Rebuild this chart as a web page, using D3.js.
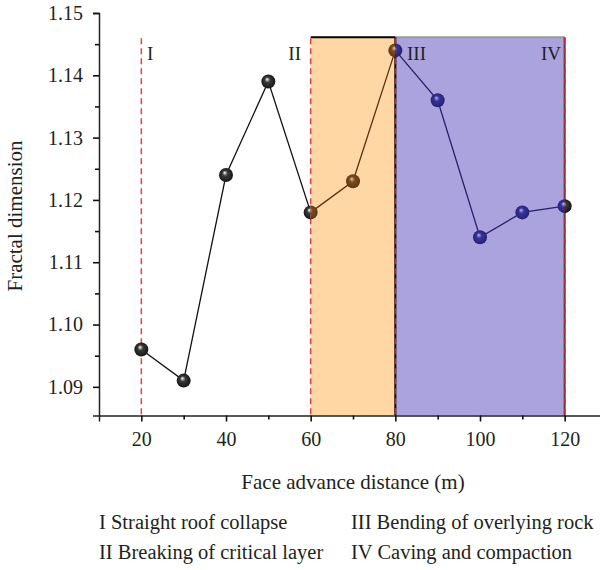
<!DOCTYPE html>
<html><head><meta charset="utf-8">
<script src="https://cdn.jsdelivr.net/npm/d3@7"></script>
<style>body{margin:0;background:#fff}svg{display:block}text{font-family:"Liberation Serif","Times New Roman",serif;fill:#231f20}</style>
</head><body><svg id="c" width="600" height="570"></svg>
<script>
const distance = [20,30,40,50,60,70,80,90,100,110,120];
const fractal = [1.096,1.091,1.124,1.139,1.118,1.123,1.144,1.136,1.114,1.118,1.119];
const stageBounds = [20,60,80,120];
const stageLabels = ["I","II","III","IV"];
const xTicks = [20,40,60,80,100,120];
const yTicks = [1.09,1.10,1.11,1.12,1.13,1.14,1.15];
const legendLines = [["I Straight roof collapse","III Bending of overlying rock"],["II Breaking of critical layer","IV Caving and compaction"]];
const segColors = [{c:"#111",hi:"#fff",mid:"#3a3a3a"},{c:"#5a3412",hi:"#f0c898",mid:"#7d4c1e"},{c:"#24206a",hi:"#b8b4f0",mid:"#37329a"}];

const svg = d3.select("#c");
const x = d3.scaleLinear().domain([10,130]).range([99,607]);
const y = d3.scaleLinear().domain([1.0854,1.15]).range([415.5,13]);
const defs = svg.append("defs");
segColors.forEach((s,i)=>{
  const g = defs.append("radialGradient").attr("id","g"+i).attr("cx","50%").attr("cy","50%").attr("r","55%").attr("fx","40%").attr("fy","32%");
  g.append("stop").attr("offset","0%").attr("stop-color",s.hi);
  g.append("stop").attr("offset","35%").attr("stop-color",s.mid);
  g.append("stop").attr("offset","100%").attr("stop-color",s.c);
});
const yTop = y(1.1461), yBot = y.range()[0];
svg.append("rect").attr("x",x(60)).attr("y",yTop).attr("width",x(80)-x(60)).attr("height",yBot-yTop).attr("fill","#fed7a5");
svg.append("rect").attr("x",x(80)).attr("y",yTop).attr("width",x(120)-x(80)).attr("height",yBot-yTop).attr("fill","#aaa3de");
svg.append("line").attr("x1",x(60)).attr("x2",x(80)).attr("y1",yTop).attr("y2",yTop).attr("stroke","#000").attr("stroke-width",2);
svg.append("line").attr("x1",x(80)).attr("x2",x(120)).attr("y1",yTop).attr("y2",yTop).attr("stroke","#999").attr("stroke-width",2);
stageBounds.forEach((b,i)=>{
  if(i>=2) svg.append("line").attr("x1",x(b)).attr("x2",x(b)).attr("y1",yTop).attr("y2",yBot).attr("stroke",i==2?"#000":"#444").attr("stroke-width",2);
  svg.append("line").attr("x1",x(b)).attr("x2",x(b)).attr("y1",yTop+1).attr("y2",yBot).attr("stroke",i>=2?"#c8282a":"#e8413c").attr("stroke-width",1.5).attr("stroke-dasharray","6,4");
});
const clipR = [[0,x(60)],[x(60),x(80)],[x(80),x(120)],[x(120),620]];
clipR.forEach((r,i)=>{defs.append("clipPath").attr("id","cl"+i).append("rect").attr("x",r[0]).attr("y",0).attr("width",r[1]-r[0]).attr("height",570);});
const pts = distance.map((d,i)=>({d,v:fractal[i]}));
const segs = [pts.filter(p=>p.d<=60), pts.filter(p=>p.d>=60&&p.d<=80), pts.filter(p=>p.d>=80)];
const line = d3.line().x(p=>x(p.d)).y(p=>y(p.v));
segs.forEach((s,i)=>svg.append("path").attr("d",line(s)).attr("fill","none").attr("stroke",segColors[i].c).attr("stroke-width",1.3));
const markerSets = [[0,segs[0]],[1,segs[1]],[2,segs[2]],[0,[pts[10]]]];
markerSets.forEach(([ci,s],k)=>{
  svg.append("g").attr("clip-path",`url(#cl${k})`).selectAll("circle").data(s).join("circle")
    .attr("cx",p=>x(p.d)).attr("cy",p=>y(p.v)).attr("r",7).attr("fill",`url(#g${ci})`);
});
svg.append("g").attr("transform","translate(99,0)").call(d3.axisLeft(y).tickValues(yTicks).tickFormat(d3.format(".2f")).tickSize(6).tickPadding(10));
svg.append("g").attr("transform","translate(99,0)").call(d3.axisLeft(y).tickValues(d3.range(1.095,1.15,0.01)).tickFormat("").tickSize(4)).select(".domain").remove();
svg.append("g").attr("transform",`translate(0,${yBot})`).call(d3.axisBottom(x).tickValues(xTicks).tickSize(6).tickPadding(10));
svg.append("g").attr("transform",`translate(0,${yBot})`).call(d3.axisBottom(x).tickValues([30,50,70,90,110]).tickFormat("").tickSize(4)).select(".domain").remove();
svg.selectAll(".domain").attr("stroke","#222").attr("stroke-width",1.5);
svg.selectAll(".tick line").attr("stroke","#111").attr("stroke-width",1.6);
svg.selectAll(".tick text").style("font-size","20px").style("font-family","'Liberation Serif', serif").style("fill","#231f20");
svg.append("text").attr("x",353).attr("y",489).attr("text-anchor","middle").attr("font-size",21).text("Face advance distance (m)");
svg.append("text").attr("transform","translate(22,216) rotate(-90)").attr("text-anchor","middle").attr("font-size",21).text("Fractal dimension");
const labPos = [[147,"start"],[301,"end"],[407,"start"],[561,"end"]];
stageLabels.forEach((l,i)=>svg.append("text").attr("x",labPos[i][0]).attr("y",60).attr("text-anchor",labPos[i][1]).attr("font-size",19).attr("fill",i>=2?"#2a2660":"#231f20").text(l));
legendLines.forEach((row,r)=>row.forEach((t,c)=>svg.append("text").attr("x",c?351:99).attr("y",529+r*30).attr("font-size",20.5).text(t)));
</script></body></html>
